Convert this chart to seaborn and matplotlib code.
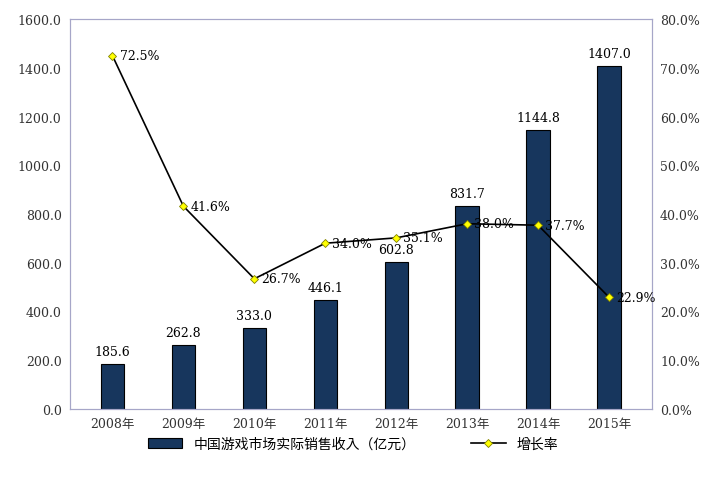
import matplotlib
matplotlib.use("Agg")
import matplotlib.pyplot as plt
from matplotlib import font_manager
import seaborn as sns
import pandas as pd
from matplotlib.ticker import FuncFormatter

years = ["2008年", "2009年", "2010年", "2011年", "2012年", "2013年", "2014年", "2015年"]
revenue = [185.6, 262.8, 333.0, 446.1, 602.8, 831.7, 1144.8, 1407.0]
growth = [72.5, 41.6, 26.7, 34.0, 35.1, 38.0, 37.7, 22.9]

names = {f.name for f in font_manager.fontManager.ttflist}
cjk = next((n for n in ["Noto Sans CJK SC", "Noto Sans CJK JP", "Noto Sans SC", "Noto Serif CJK SC"] if n in names),
           next((n for n in names if "CJK" in n), "DejaVu Sans"))
plt.rcParams["font.family"] = ["DejaVu Serif", cjk]
serif = ["DejaVu Serif"]
df = pd.DataFrame({"year": years, "rev": revenue, "g": growth})

fig = plt.figure(figsize=(7.06, 4.81), dpi=100)
ax = fig.add_axes([0.099, 0.148, 0.824, 0.81])
sns.barplot(data=df, x="year", y="rev", color="#17365d", saturation=1, edgecolor="black", linewidth=0.8,
            width=0.33, ax=ax, label="中国游戏市场实际销售收入（亿元）")
if ax.get_legend():
    ax.get_legend().remove()
ax.set_ylim(0, 1600)
ax.set_yticks(range(0, 1601, 200))
ax.yaxis.set_major_formatter(FuncFormatter(lambda v, p: f"{v:.1f}"))
for i, v in enumerate(revenue):
    ax.text(i, v + 25, f"{v:.1f}", ha="center", va="bottom", fontsize=9, family=serif)
ax2 = ax.twinx()
x = list(range(len(years)))
ax2.plot(x, growth, color="black", lw=1.2, marker="D", ms=4.5, mfc="#ffff00", mec="#808000", mew=0.6, label="增长率")
ax2.set_ylim(0, 80)
ax2.set_yticks(range(0, 81, 10))
ax2.yaxis.set_major_formatter(FuncFormatter(lambda v, p: f"{v:.1f}%"))
for i, v in enumerate(growth):
    ax2.text(i + 0.1, v, f"{v:.1f}%", ha="left", va="center", fontsize=9, family=serif)
for a in (ax, ax2):
    for s in a.spines.values():
        s.set_color("#a6a6c8")
    a.tick_params(length=0, labelsize=9, colors="#333333", pad=6)
ax.set_xlabel(""); ax.set_ylabel(""); ax2.set_ylabel("")
ax.set_xlim(-0.6, 7.6)
h1, l1 = ax.get_legend_handles_labels()
h2, l2 = ax2.get_legend_handles_labels()
fig.legend(h1 + h2, l1 + l2, loc="lower center", bbox_to_anchor=(0.5, 0.035), ncol=2, frameon=False,
           prop={"family": [cjk], "size": 10}, columnspacing=4, handlelength=2.5)
fig.savefig("out.png", dpi=100)
